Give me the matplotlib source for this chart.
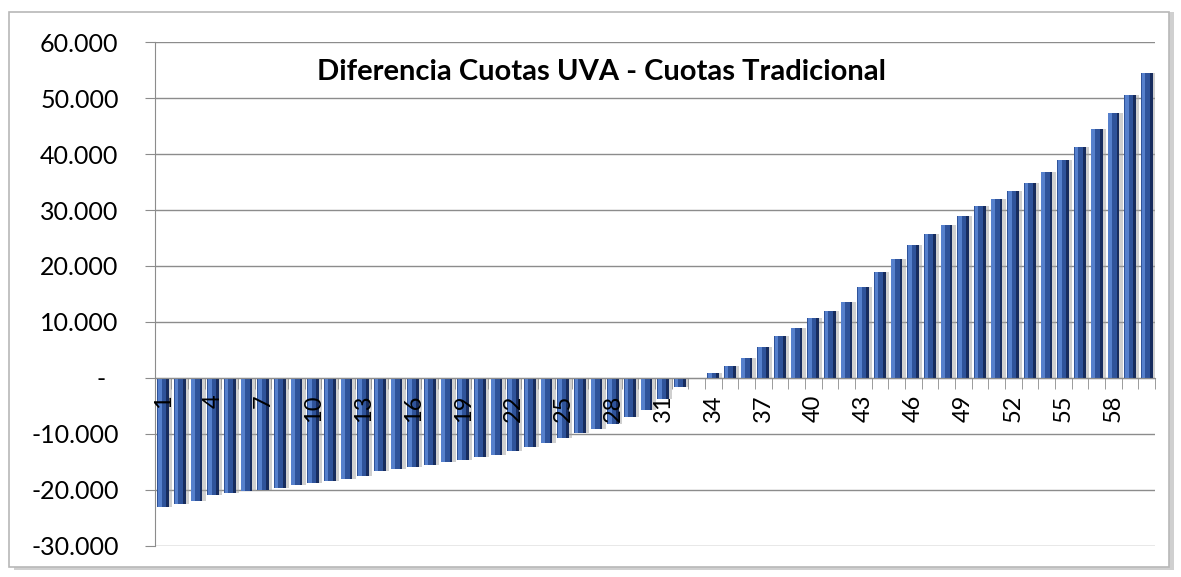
import matplotlib.pyplot as plt
from matplotlib.patches import Rectangle
from matplotlib.ticker import FuncFormatter, FixedLocator
import numpy as np

# cuota number and difference (UVA - tradicional)
cuotas = list(range(1, 61))
diferencia = [
    -23100, -22500, -21900, -21000, -20500, -20200, -20000, -19600, -19200, -18800,
    -18500, -18000, -17500, -16700, -16300, -16000, -15500, -15100, -14600, -14200,
    -13700, -13000, -12300, -11600, -10800, -9900, -9200, -8200, -7000, -5800,
    -3750, -1700, 0, 900, 2100, 3600, 5500, 7500, 9000, 10700,
    12000, 13500, 16300, 19000, 21300, 23800, 25700, 27300, 29000, 30800,
    31900, 33400, 34900, 36800, 38900, 41300, 44400, 47300, 50500, 54500,
]
etiquetas = [str(c) for c in cuotas[::3]]
titulo = "Diferencia Cuotas UVA - Cuotas Tradicional"

plt.rcParams['font.family'] = ['Lato', 'DejaVu Sans']

fig = plt.figure(figsize=(11.81, 5.77), dpi=100)

# outer chart frame with a soft shadow
fig.patches.append(Rectangle((0.012, 0.012), 0.982, 0.968, transform=fig.transFigure,
                             facecolor='#d0d0d0', edgecolor='none', zorder=-3))
fig.patches.append(Rectangle((0.008, 0.018), 0.982, 0.962, transform=fig.transFigure,
                             facecolor='white', edgecolor='#b8b8b8', linewidth=1.2, zorder=-2))

ax = fig.add_axes([0.131, 0.054, 0.847, 0.873])
ax.set_facecolor('none')
ax.set_zorder(2)

x = np.arange(len(cuotas))
# shadow, base bar, light left side and dark right side (fake 3D look)
ax.bar(x + 0.2, diferencia, width=0.7, color='#a0a0a0', alpha=0.5, zorder=2)
ax.bar(x, diferencia, width=0.7, color='#2f539a', linewidth=0, zorder=3)
ax.bar(x - 0.2, diferencia, width=0.22, color='#5680cc', linewidth=0, zorder=4)
ax.bar(x + 0.27, diferencia, width=0.16, color='#172c5e', linewidth=0, zorder=4)

ax.set_xlim(-0.5, len(cuotas) - 0.5)
ax.set_ylim(-30000, 60000)
ax.set_yticks(np.arange(-30000, 60001, 10000))


def fmt(v, pos):
    if v == 0:
        return '-  '
    return f"{v:,.0f}".replace(',', '.')


ax.yaxis.set_major_formatter(FuncFormatter(fmt))
ax.grid(axis='y', color='#8c8c8c', linewidth=1)
ax.set_axisbelow(True)
ax.xaxis.set_zorder(6)

for s in ['top', 'right']:
    ax.spines[s].set_visible(False)
ax.spines['left'].set_color('#8c8c8c')
ax.spines['bottom'].set_position(('data', 0))
ax.spines['bottom'].set_color('#8c8c8c')
ax.spines['bottom'].set_zorder(5)

ax.tick_params(axis='y', length=7, color='#8c8c8c', labelsize=18, pad=19)
ax.xaxis.set_major_locator(FixedLocator(x[::3]))
ax.set_xticklabels(etiquetas)
ax.tick_params(axis='x', which='major', length=0, pad=12, labelsize=17, labelrotation=90)
ax.xaxis.set_minor_locator(FixedLocator(np.arange(-0.5, len(cuotas), 1)))
ax.tick_params(axis='x', which='minor', length=8, color='#8c8c8c')

ax.text(0.447, 0.94, titulo, transform=ax.transAxes, ha='center', va='center',
        fontsize=21, fontweight='bold')

fig.savefig('out.png', dpi=100)
